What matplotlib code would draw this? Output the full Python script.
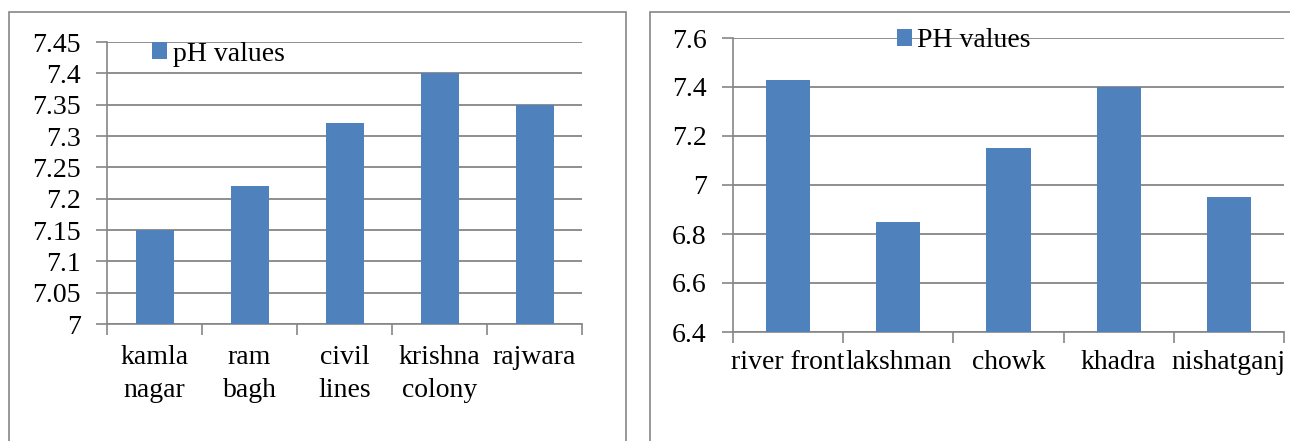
import matplotlib
matplotlib.use('Agg')
from matplotlib import pyplot as plt
from matplotlib.patches import Rectangle
import numpy as np

# *************************** DATA ***************************

left_sites = ["kamla\nnagar", "ram\nbagh", "civil\nlines", "krishna\ncolony", "rajwara"]
left_ph = [7.15, 7.22, 7.32, 7.40, 7.35]
left_yticks = [7.0, 7.05, 7.1, 7.15, 7.2, 7.25, 7.3, 7.35, 7.4, 7.45]

right_sites = ["river front", "lakshman", "chowk", "khadra", "nishatganj"]
right_ph = [7.43, 6.85, 7.15, 7.40, 6.95]
right_yticks = [6.4, 6.6, 6.8, 7.0, 7.2, 7.4, 7.6]

bar_color = '#4F81BD'
gray = '#868686'

plt.rcParams['font.family'] = ['Liberation Serif', 'DejaVu Serif']
plt.rcParams['font.size'] = 20

fig = plt.figure(figsize=(12.9, 4.41), dpi=100)

# gray frames round each chart (they run off the bottom of the picture)
fig.patches.append(Rectangle((9 / 1290, -0.2), (626 - 9) / 1290, 1.2 - 12 / 441,
                             transform=fig.transFigure, fill=False, edgecolor=gray, lw=1.2))
fig.patches.append(Rectangle((650 / 1290, -0.2), 0.6, 1.2 - 12 / 441,
                             transform=fig.transFigure, fill=False, edgecolor=gray, lw=1.2))


def draw_chart(ax, sites, values, yticks, label, label_pad, leg_xy):
    x = np.arange(len(sites))
    ax.bar(x, values, width=0.4, color=bar_color, zorder=3, label=label)
    ax.set_ylim(yticks[0], yticks[-1])
    ax.set_xlim(-0.5, len(sites) - 0.5)

    # gridlines at each tick
    ax.set_yticks(yticks)
    ax.set_yticklabels([f"{v:g}" for v in yticks])
    ax.yaxis.grid(True, color=gray, lw=1.3, zorder=0)
    ax.set_axisbelow(True)

    # tick marks at category boundaries, labels in the middle
    ax.set_xticks(np.arange(len(sites) + 1) - 0.5)
    ax.set_xticklabels([])
    ax.set_xticks(x, minor=True)
    ax.set_xticklabels(sites, minor=True, linespacing=1.45)
    ax.tick_params(axis='x', which='major', length=8, width=1.2, color=gray, direction='out')
    ax.tick_params(axis='x', which='minor', length=0, pad=label_pad)
    ax.tick_params(axis='y', length=8, width=1.2, color=gray, pad=11)

    for side in ['top', 'right']:
        ax.spines[side].set_visible(False)
    for side in ['left', 'bottom']:
        ax.spines[side].set_color(gray)
        ax.spines[side].set_linewidth(1.2)

    ax.legend(loc='center left', bbox_to_anchor=leg_xy, frameon=False,
              handlelength=0.55, handleheight=0.55, handletextpad=0.2,
              borderpad=0, borderaxespad=0)


ax1 = fig.add_axes([107 / 1290, 1 - 324 / 441, (582 - 107) / 1290, (324 - 42) / 441])
draw_chart(ax1, left_sites, left_ph, left_yticks, 'pH values', 15, (0.095, 0.957))

ax2 = fig.add_axes([733 / 1290, 1 - 332 / 441, (1284 - 733) / 1290, (332 - 38) / 441])
draw_chart(ax2, right_sites, right_ph, right_yticks, 'PH values', 13, (0.297, 0.99))

fig.savefig('out.png', dpi=100)
